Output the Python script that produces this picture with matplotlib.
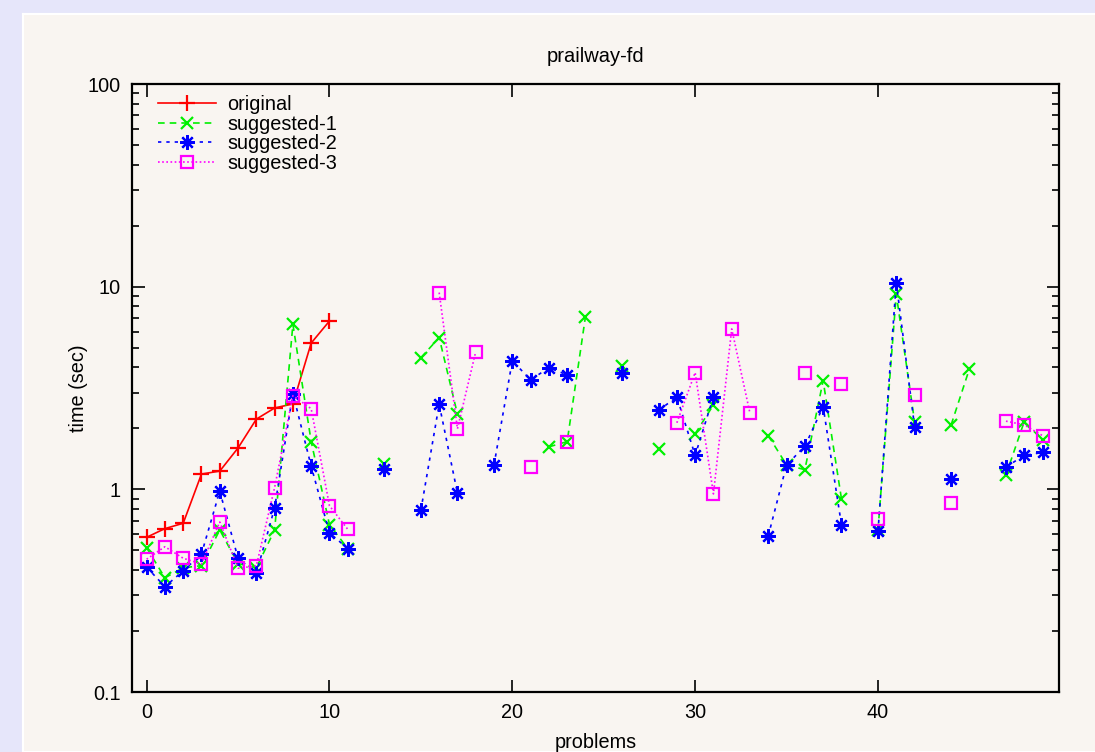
import numpy as np
import matplotlib.pyplot as plt
from matplotlib.ticker import FixedLocator, LogLocator, NullFormatter

nan = np.nan
problems = np.arange(50)

original = [0.58, 0.64, 0.68, 1.19, 1.23, 1.60, 2.22, 2.52, 2.64, 5.27, 6.77] + [nan] * 39

suggested_1 = [0.515, 0.366, 0.41, 0.42, 0.63, 0.43, 0.41, 0.63, 6.52, 1.72,
               0.67, 0.51, nan, 1.33, nan, 4.46, 5.61, 2.35, nan, nan,
               nan, nan, 1.62, 1.72, 7.11, nan, 4.07, nan, 1.58, nan,
               1.88, 2.61, nan, nan, 1.84, 1.32, 1.25, 3.44, 0.90, nan,
               0.63, 9.17, 2.16, nan, 2.08, 3.93, nan, 1.18, 2.16, 1.75]

suggested_2 = [0.413, 0.331, 0.396, 0.48, 0.98, 0.457, 0.385, 0.81, 2.97, 1.30,
               0.61, 0.51, nan, 1.26, nan, 0.79, 2.63, 0.957, nan, 1.32,
               4.31, 3.47, 3.98, 3.67, nan, nan, 3.74, nan, 2.45, 2.86,
               1.47, 2.86, nan, nan, 0.59, 1.32, 1.63, 2.56, 0.67, nan,
               0.62, 10.47, 2.04, nan, 1.12, nan, nan, 1.29, 1.47, 1.52]

suggested_3 = [0.452, 0.521, 0.457, 0.428, 0.69, 0.408, 0.419, 1.02, 2.9, 2.50,
               0.83, 0.635, nan, nan, nan, nan, 9.35, 1.99, 4.78, nan,
               nan, 1.29, nan, 1.72, nan, nan, nan, nan, nan, 2.13,
               3.77, 0.949, 6.19, 2.37, nan, nan, 3.77, nan, 3.31, nan,
               0.71, nan, 2.92, nan, 0.853, nan, nan, 2.17, 2.08, 1.84]

plt.rcParams['font.family'] = ['Liberation Sans', 'DejaVu Sans']
plt.rcParams['font.size'] = 14.3

fig = plt.figure(figsize=(10.95, 7.52), dpi=100, facecolor='#e6e6fa')
# inner light panel behind everything
bg = fig.add_axes([23 / 1095, 0, 1, 1 - 14 / 752], zorder=-5)
bg.set_facecolor('#f9f5f1')
bg.set_xticks([])
bg.set_yticks([])
for s in bg.spines.values():
    s.set_color('white')
    s.set_linewidth(1.5)

ax = fig.add_axes([132 / 1095, 1 - 692 / 752, (1059 - 132) / 1095, (692 - 84) / 752])
ax.set_facecolor('#f9f5f1')

ax.plot(problems, original, color='#ff0000', ls='-', lw=1.2, marker='+', ms=11, mew=1.6,
        label='original')
ax.plot(problems, suggested_1, color='#00f000', ls=(0, (4, 3)), lw=1.2, marker='x', ms=8.5, mew=1.6,
        label='suggested-1')
ax.plot(problems, suggested_2, color='#0000ff', ls=(0, (2, 3)), lw=1.2, marker=(8, 2, 0), ms=10.5,
        mew=1.6, label='suggested-2')
ax.plot(problems, suggested_3, color='#ff00ff', ls=(0, (1, 1.5)), lw=1.2, marker='s', ms=8.5,
        mew=1.6, mfc='none', label='suggested-3')

ax.set_yscale('log')
ax.set_ylim(0.1, 100)
ax.set_xlim(-0.8, 49.9)
ax.xaxis.set_major_locator(FixedLocator([0, 10, 20, 30, 40]))
ax.yaxis.set_major_locator(FixedLocator([0.1, 1, 10, 100]))
ax.set_yticklabels(['0.1', '1', '10', '100'])
ax.yaxis.set_minor_locator(LogLocator(base=10, subs=np.arange(2, 10)))
ax.yaxis.set_minor_formatter(NullFormatter())
ax.tick_params(which='both', direction='in', top=True, right=True, width=1.2)
ax.tick_params(which='major', length=9, pad=8)
ax.tick_params(which='minor', length=5)
for s in ax.spines.values():
    s.set_linewidth(1.6)

ax.set_title('prailway-fd', fontsize=14.5, pad=16)
ax.set_xlabel('problems', labelpad=8)
ax.set_ylabel('time (sec)', labelpad=0)

ax.legend(loc='upper left', bbox_to_anchor=(0.017, 0.998), frameon=False, borderpad=0,
          handlelength=2.95, handletextpad=0.55, labelspacing=0.03)

fig.savefig('out.png', dpi=100, facecolor=fig.get_facecolor())
